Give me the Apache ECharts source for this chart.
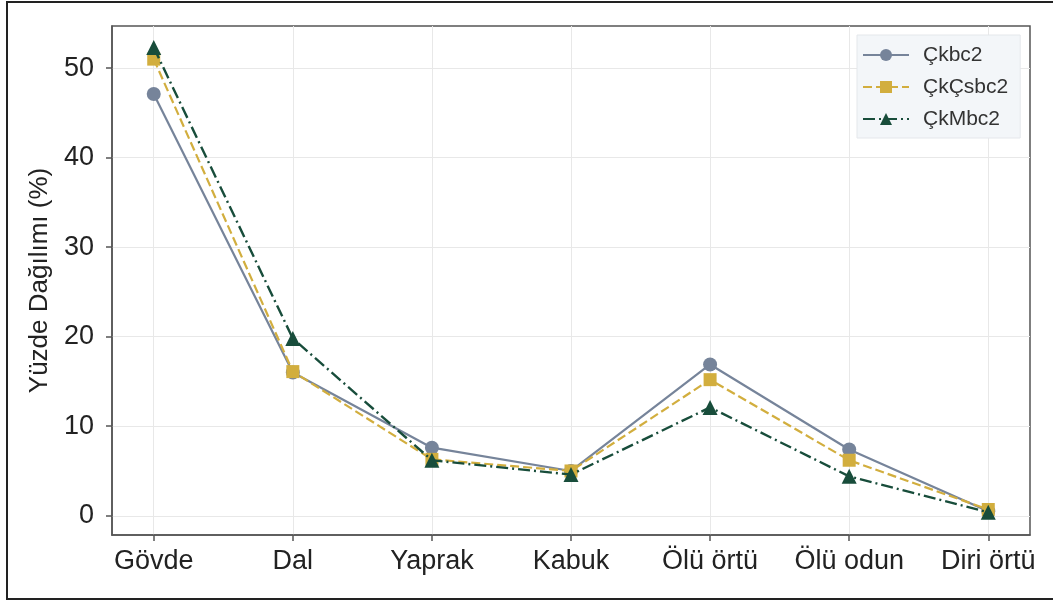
<!DOCTYPE html>
<html>
<head>
<meta charset="utf-8">
<script src="https://cdn.jsdelivr.net/npm/echarts@6/dist/echarts.min.js"></script>
<style>
html,body{margin:0;padding:0;background:#fff;}
#chart{width:1053px;height:603px;}
</style>
</head>
<body>
<div id="chart"></div>
<script>
const categories = ['Gövde', 'Dal', 'Yaprak', 'Kabuk', 'Ölü örtü', 'Ölü odun', 'Diri örtü'];
const seriesNames = ['Çkbc2', 'ÇkÇsbc2', 'ÇkMbc2'];
const ckbc2 = [47.1, 16.0, 7.6, 5.0, 16.9, 7.4, 0.5];
const ckcsbc2 = [51.0, 16.1, 6.3, 5.0, 15.2, 6.2, 0.7];
const ckmbc2 = [52.3, 19.8, 6.2, 4.6, 12.1, 4.4, 0.4];
const yTicks = [0, 10, 20, 30, 40, 50];

const FONT = 'Liberation Sans, Arial, sans-serif';
const toPts = arr => arr.map((v, i) => [i, v]);

const chart = echarts.init(document.getElementById('chart'), null, {renderer: 'canvas'});
const option = {
  backgroundColor: '#ffffff',
  animation: false,
  textStyle: {fontFamily: FONT},
  graphic: [{
    type: 'rect', silent: true, z: 100,
    shape: {x: 7, y: 2, width: 1100, height: 597},
    style: {fill: 'none', stroke: '#222', lineWidth: 2}
  }],
  grid: {
    left: 112, right: 23, top: 26, bottom: 68,
    show: true, borderColor: '#555', borderWidth: 1.5, backgroundColor: 'transparent'
  },
  legend: {
    data: seriesNames,
    orient: 'vertical',
    left: 857, top: 35,
    padding: [9, 12, 8, 5],
    itemWidth: 46, itemHeight: 15, itemGap: 10,
    backgroundColor: '#f3f6f9',
    borderColor: '#e4e7eb', borderWidth: 1,
    textStyle: {fontSize: 21, color: '#333', fontFamily: FONT, lineHeight: 22, padding: [0, 0, 0, 9]}
  },
  xAxis: {
    type: 'value', min: -0.3, max: 6.3,
    axisLine: {show: true, onZero: false, lineStyle: {color: '#555', width: 1.5}},
    axisTick: {show: true, length: 6, customValues: [0,1,2,3,4,5,6], lineStyle: {color: '#555', width: 1.5}},
    axisLabel: {customValues: [0,1,2,3,4,5,6], formatter: v => categories[Math.round(v)] || '',
      fontSize: 27, color: '#222', margin: 13, fontFamily: FONT},
    splitLine: {show: true, lineStyle: {color: '#e8e8e8', width: 1}}
  },
  yAxis: {
    type: 'value', min: -2.15, max: 54.7,
    name: 'Yüzde Dağılımı (%)', nameLocation: 'middle', nameGap: 59, nameRotate: 90,
    nameTextStyle: {fontSize: 26, color: '#222', fontFamily: FONT},
    axisLine: {show: true, onZero: false, lineStyle: {color: '#555', width: 1.5}},
    axisTick: {show: true, length: 6, customValues: yTicks, lineStyle: {color: '#555', width: 1.5}},
    axisLabel: {customValues: yTicks, fontSize: 27, color: '#222', margin: 18, fontFamily: FONT},
    splitLine: {show: true, lineStyle: {color: '#e8e8e8', width: 1}}
  },
  series: [
    {
      name: seriesNames[0], type: 'line', data: toPts(ckbc2),
      symbol: 'circle', symbolSize: 14,
      lineStyle: {color: '#76849a', width: 2.2, type: 'solid'},
      itemStyle: {color: '#76849a'}, z: 2
    },
    {
      name: seriesNames[1], type: 'line', data: toPts(ckcsbc2),
      symbol: 'rect', symbolSize: 13,
      lineStyle: {color: '#d2ae3e', width: 2.2, type: [9, 4]},
      itemStyle: {color: '#d2ae3e'}, z: 3
    },
    {
      name: seriesNames[2], type: 'line', data: toPts(ckmbc2),
      symbol: 'triangle', symbolSize: 15,
      lineStyle: {color: '#184d3b', width: 2.4, type: [12, 4, 2, 4]},
      itemStyle: {color: '#184d3b'}, z: 4
    }
  ]
};
chart.setOption(option);
</script>
</body>
</html>
